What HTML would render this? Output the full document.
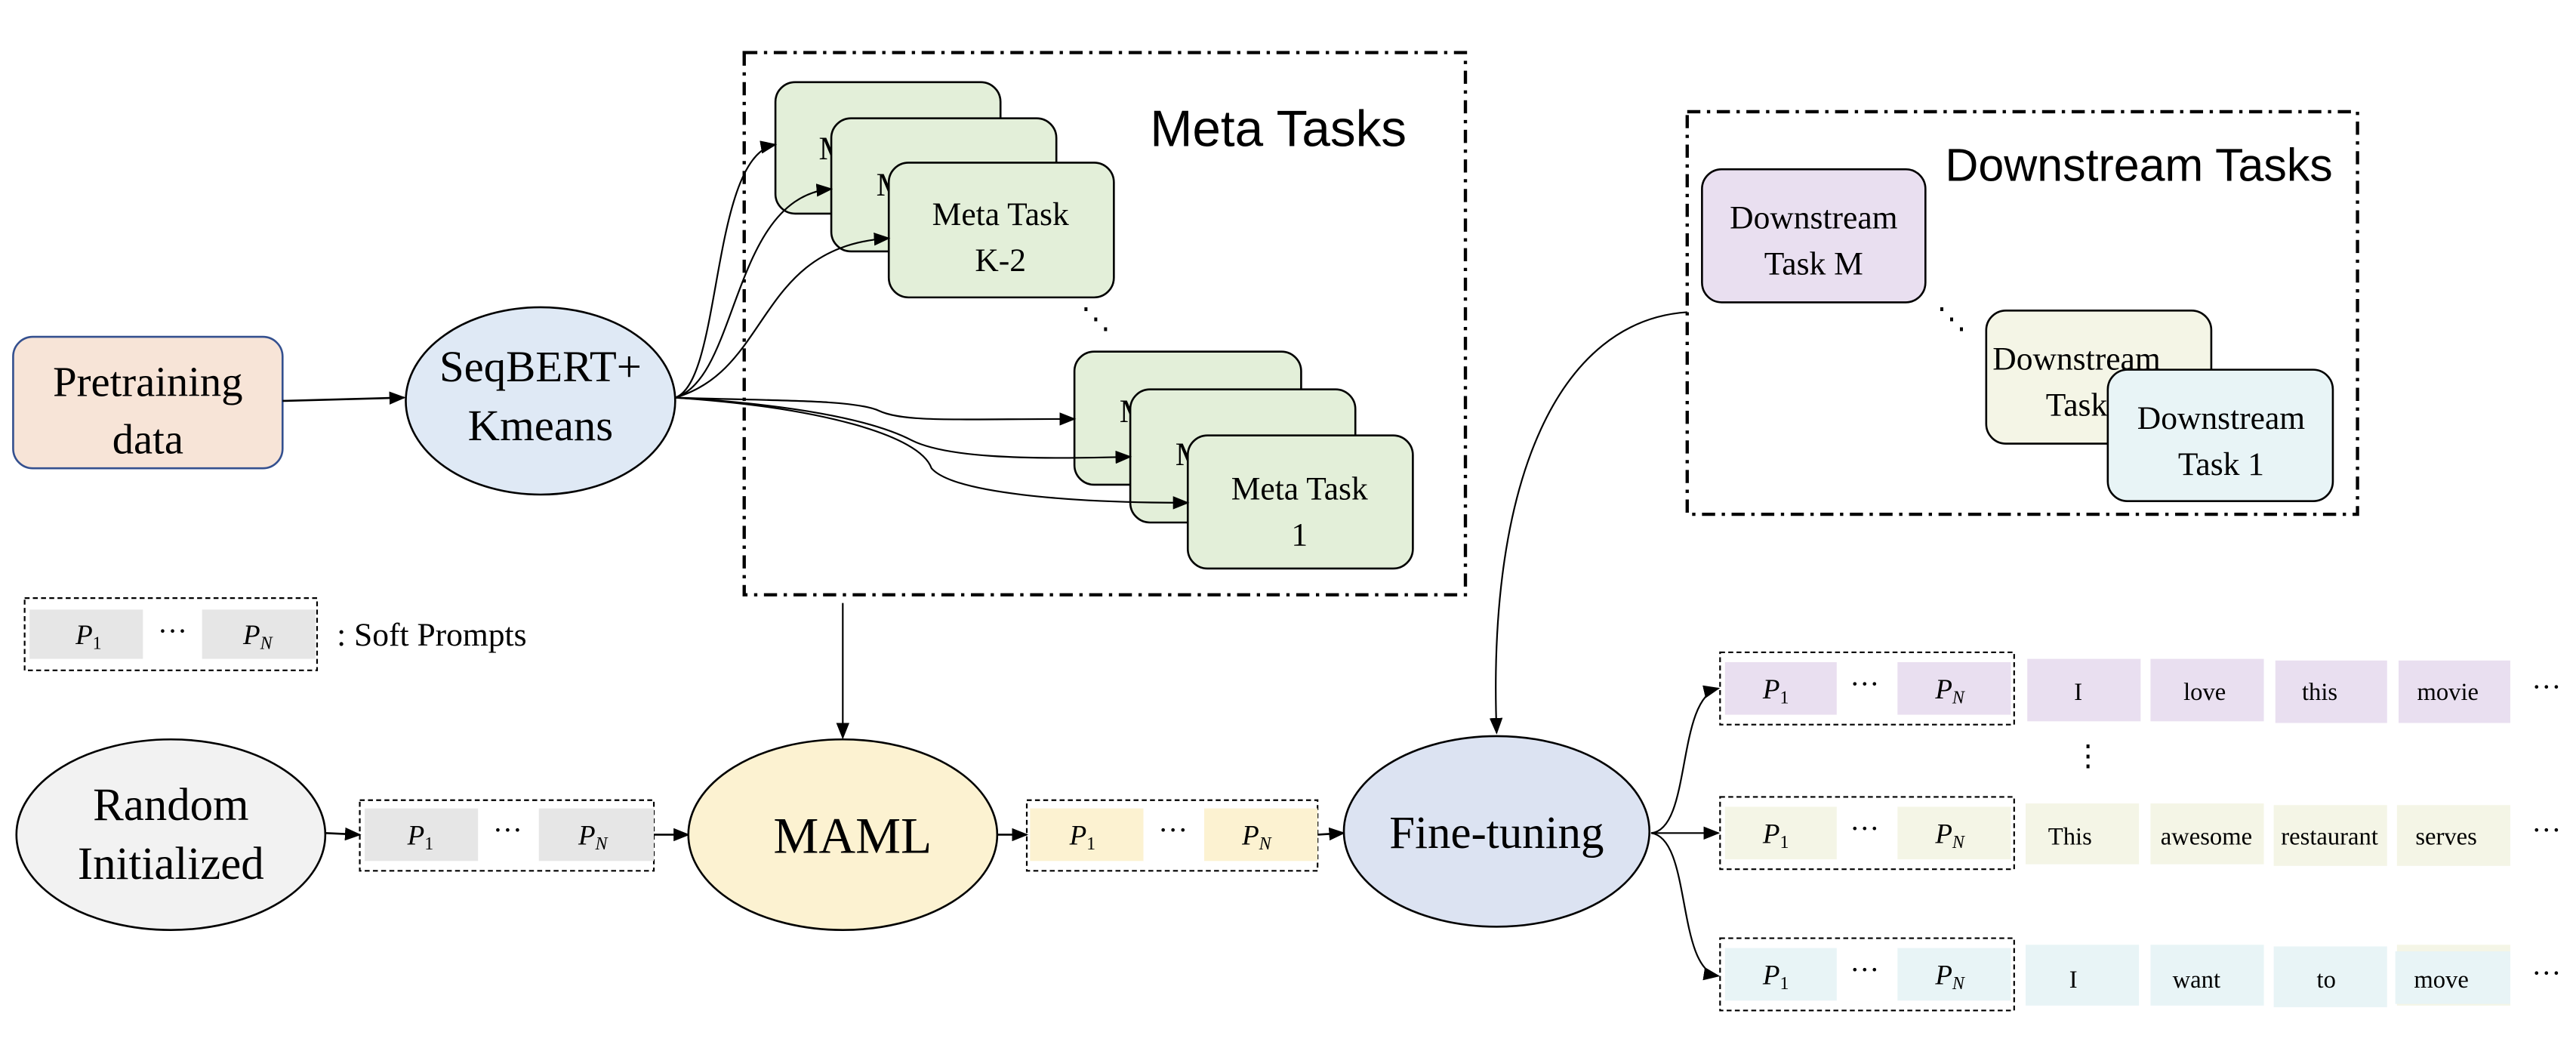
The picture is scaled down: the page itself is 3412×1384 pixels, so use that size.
<!DOCTYPE html>
<html><head><meta charset="utf-8"><style>
html,body{margin:0;padding:0;background:#fff;}
svg{display:block;}
.s{font-family:"Liberation Serif",serif;fill:#000;}
.a{font-family:"Liberation Sans",sans-serif;fill:#000;}
</style></head><body>
<svg width="3412" height="1384" viewBox="0 0 1568 636" preserveAspectRatio="none" xmlns="http://www.w3.org/2000/svg">
<defs>
<marker id="ar" markerWidth="10" markerHeight="8" refX="9" refY="4" orient="auto" markerUnits="userSpaceOnUse">
<path d="M0,0 L10,4 L0,8 Z" fill="#000"/></marker>
</defs>

<rect x="8" y="205" width="164" height="80" rx="12" fill="#f7e4d7" stroke="#34508f" stroke-width="1.2"/>
<text class="s" x="90" y="241" font-size="26" text-anchor="middle">Pretraining</text>
<text class="s" x="90" y="276" font-size="26" text-anchor="middle">data</text>
<line x1="172" y1="244" x2="246" y2="242" stroke="#000" stroke-width="1.2" marker-end="url(#ar)"/>

<ellipse cx="329" cy="244" rx="82" ry="57" fill="#dfe9f5" stroke="#000" stroke-width="1.2"/>
<text class="s" x="329" y="232" font-size="27" text-anchor="middle">SeqBERT+</text>
<text class="s" x="329" y="268" font-size="27" text-anchor="middle">Kmeans</text>

<rect x="453" y="32" width="439" height="330" fill="none" stroke="#000" stroke-width="2" stroke-dasharray="8 4 2 4"/>
<text class="a" x="700" y="89" font-size="31">Meta Tasks</text>

<rect x="472" y="50" width="137" height="80" rx="12" fill="#e3efd9" stroke="#000" stroke-width="1.2"/>
<text class="s" x="540" y="97" font-size="20" text-anchor="middle">Meta Task</text>
<rect x="506" y="72" width="137" height="81" rx="12" fill="#e3efd9" stroke="#000" stroke-width="1.2"/>
<text class="s" x="575" y="119" font-size="20" text-anchor="middle">Meta Task</text>
<rect x="541" y="99" width="137" height="82" rx="12" fill="#e3efd9" stroke="#000" stroke-width="1.2"/>
<text class="s" x="609" y="137" font-size="20" text-anchor="middle">Meta Task</text>
<text class="s" x="609" y="165" font-size="20" text-anchor="middle">K-2</text>
<text class="s" x="667" y="200" font-size="18" text-anchor="middle">⋱</text>
<rect x="654" y="214" width="138" height="81" rx="12" fill="#e3efd9" stroke="#000" stroke-width="1.2"/>
<text class="s" x="723" y="257" font-size="20" text-anchor="middle">Meta Task</text>
<rect x="688" y="237" width="137" height="81" rx="12" fill="#e3efd9" stroke="#000" stroke-width="1.2"/>
<text class="s" x="757" y="283" font-size="20" text-anchor="middle">Meta Task</text>
<rect x="723" y="265" width="137" height="81" rx="12" fill="#e3efd9" stroke="#000" stroke-width="1.2"/>
<text class="s" x="791" y="304" font-size="20" text-anchor="middle">Meta Task</text>
<text class="s" x="791" y="332" font-size="20" text-anchor="middle">1</text>

<g fill="none" stroke="#000" stroke-width="1" >
<path d="M411,242 C440,232 432,95 472,88" marker-end="url(#ar)"/>
<path d="M411,242 C450,230 445,120 506,115" marker-end="url(#ar)"/>
<path d="M411,242 C470,225 460,150 541,145" marker-end="url(#ar)"/>
<path d="M411,242 C470,244 520,243 535,250 C550,257 580,255 654,255" marker-end="url(#ar)"/>
<path d="M411,242 C480,246 530,255 555,268 C575,278 620,280 688,278" marker-end="url(#ar)"/>
<path d="M411,242 C500,248 560,265 567,285 C580,300 650,306 723,306" marker-end="url(#ar)"/>
</g>

<line x1="513" y1="367" x2="513" y2="449" stroke="#000" stroke-width="1" marker-end="url(#ar)"/>

<rect x="15" y="364" width="178" height="44" fill="none" stroke="#000" stroke-width="1" stroke-dasharray="3 2"/>
<rect x="18" y="371" width="69" height="30" fill="#e6e6e6"/>
<rect x="123" y="371" width="69" height="30" fill="#e6e6e6"/>
<text class="s" x="46" y="392" font-size="17" font-style="italic">P<tspan font-size="11" font-style="normal" dy="3">1</tspan></text>
<text class="s" x="105" y="390" font-size="18" text-anchor="middle">···</text>
<text class="s" x="148" y="392" font-size="17" font-style="italic">P<tspan font-size="11" dy="3">N</tspan></text>
<text class="s" x="205" y="393" font-size="20">: Soft Prompts</text>

<ellipse cx="104" cy="508" rx="94" ry="58" fill="#f2f2f2" stroke="#000" stroke-width="1.2"/>
<text class="s" x="104" y="499" font-size="28" text-anchor="middle">Random</text>
<text class="s" x="104" y="535" font-size="28" text-anchor="middle">Initialized</text>
<line x1="198" y1="507" x2="219" y2="508" stroke="#000" stroke-width="1.2" marker-end="url(#ar)"/>

<rect x="219" y="487" width="179" height="43" fill="none" stroke="#000" stroke-width="1" stroke-dasharray="3 2"/>
<rect x="222" y="492" width="69" height="32" fill="#e6e6e6"/>
<rect x="328" y="492" width="70" height="32" fill="#e6e6e6"/>
<text class="s" x="248" y="514" font-size="17" font-style="italic">P<tspan font-size="11" font-style="normal" dy="3">1</tspan></text>
<text class="s" x="309" y="511" font-size="18" text-anchor="middle">···</text>
<text class="s" x="352" y="514" font-size="17" font-style="italic">P<tspan font-size="11" dy="3">N</tspan></text>
<line x1="398" y1="508" x2="419" y2="508" stroke="#000" stroke-width="1.2" marker-end="url(#ar)"/>

<ellipse cx="513" cy="508" rx="94" ry="58" fill="#fcf2d1" stroke="#000" stroke-width="1.2"/>
<text class="s" x="519" y="519" font-size="31" text-anchor="middle">MAML</text>
<line x1="607" y1="508" x2="625" y2="508" stroke="#000" stroke-width="1.2" marker-end="url(#ar)"/>

<rect x="625" y="487" width="177" height="43" fill="none" stroke="#000" stroke-width="1" stroke-dasharray="3 2"/>
<rect x="627" y="492" width="69" height="32" fill="#fcf2d1"/>
<rect x="733" y="492" width="69" height="32" fill="#fcf2d1"/>
<text class="s" x="651" y="514" font-size="17" font-style="italic">P<tspan font-size="11" font-style="normal" dy="3">1</tspan></text>
<text class="s" x="714" y="511" font-size="18" text-anchor="middle">···</text>
<text class="s" x="756" y="514" font-size="17" font-style="italic">P<tspan font-size="11" dy="3">N</tspan></text>
<line x1="802" y1="508" x2="818" y2="507" stroke="#000" stroke-width="1.2" marker-end="url(#ar)"/>

<ellipse cx="911" cy="506" rx="93" ry="58" fill="#dce3f2" stroke="#000" stroke-width="1.2"/>
<text class="s" x="911" y="516" font-size="28" text-anchor="middle">Fine-tuning</text>

<rect x="1027" y="68" width="408" height="245" fill="none" stroke="#000" stroke-width="2" stroke-dasharray="8 4 2 4"/>
<text class="a" x="1184" y="110" font-size="28">Downstream Tasks</text>
<rect x="1036" y="103" width="136" height="81" rx="12" fill="#e9dff0" stroke="#000" stroke-width="1.2"/>
<text class="s" x="1104" y="139" font-size="20" text-anchor="middle">Downstream</text>
<text class="s" x="1104" y="167" font-size="20" text-anchor="middle">Task M</text>
<text class="s" x="1188" y="200" font-size="18" text-anchor="middle">⋱</text>
<rect x="1209" y="189" width="137" height="81" rx="12" fill="#f4f5e6" stroke="#000" stroke-width="1.2"/>
<text class="s" x="1264" y="225" font-size="20" text-anchor="middle">Downstream</text>
<text class="s" x="1264" y="253" font-size="20" text-anchor="middle">Task</text>
<rect x="1283" y="225" width="137" height="80" rx="12" fill="#e8f4f6" stroke="#000" stroke-width="1.2"/>
<text class="s" x="1352" y="261" font-size="20" text-anchor="middle">Downstream</text>
<text class="s" x="1352" y="289" font-size="20" text-anchor="middle">Task 1</text>

<path d="M1027,190 C950,195 905,290 911,446" fill="none" stroke="#000" stroke-width="1" marker-end="url(#ar)"/>

<g fill="none" stroke="#000" stroke-width="1">
<path d="M1005,507 C1030,505 1020,425 1046,419" marker-end="url(#ar)"/>
<path d="M1005,507 L1046,507" marker-end="url(#ar)"/>
<path d="M1005,507 C1030,510 1020,590 1046,594" marker-end="url(#ar)"/>
</g>

<rect x="1047" y="397" width="179" height="44" fill="none" stroke="#000" stroke-width="1" stroke-dasharray="3 2"/>
<rect x="1050" y="403" width="68" height="32" fill="#e9dff0"/>
<rect x="1155" y="403" width="69" height="32" fill="#e9dff0"/>
<text class="s" x="1073" y="425" font-size="17" font-style="italic">P<tspan font-size="11" font-style="normal" dy="3">1</tspan></text>
<text class="s" x="1135" y="422" font-size="18" text-anchor="middle">···</text>
<text class="s" x="1178" y="425" font-size="17" font-style="italic">P<tspan font-size="11" dy="3">N</tspan></text>
<g fill="#e9dff0"><rect x="1234" y="401" width="69" height="38"/><rect x="1309" y="401" width="69" height="38"/><rect x="1385" y="402" width="68" height="38"/><rect x="1460" y="402" width="68" height="38"/></g>
<g class="s" font-size="15" text-anchor="middle">
<text x="1265" y="426">I</text><text x="1342" y="426">love</text><text x="1412" y="426">this</text><text x="1490" y="426">movie</text>
</g>
<text class="s" x="1550" y="424" font-size="18" text-anchor="middle">···</text>
<text class="s" x="1271" y="466" font-size="18" text-anchor="middle">⋮</text>

<rect x="1047" y="485" width="179" height="44" fill="none" stroke="#000" stroke-width="1" stroke-dasharray="3 2"/>
<rect x="1050" y="491" width="68" height="32" fill="#f4f5e6"/>
<rect x="1155" y="491" width="69" height="32" fill="#f4f5e6"/>
<text class="s" x="1073" y="513" font-size="17" font-style="italic">P<tspan font-size="11" font-style="normal" dy="3">1</tspan></text>
<text class="s" x="1135" y="510" font-size="18" text-anchor="middle">···</text>
<text class="s" x="1178" y="513" font-size="17" font-style="italic">P<tspan font-size="11" dy="3">N</tspan></text>
<g fill="#f4f5e6"><rect x="1233" y="489" width="69" height="37"/><rect x="1309" y="489" width="69" height="37"/><rect x="1384" y="490" width="69" height="37"/><rect x="1459" y="490" width="69" height="37"/></g>
<g class="s" font-size="15" text-anchor="middle">
<text x="1260" y="514">This</text><text x="1343" y="514">awesome</text><text x="1418" y="514">restaurant</text><text x="1489" y="514">serves</text>
</g>
<text class="s" x="1550" y="511" font-size="18" text-anchor="middle">···</text>

<rect x="1047" y="571" width="179" height="44" fill="none" stroke="#000" stroke-width="1" stroke-dasharray="3 2"/>
<rect x="1050" y="577" width="68" height="32" fill="#e8f4f6"/>
<rect x="1155" y="577" width="69" height="32" fill="#e8f4f6"/>
<text class="s" x="1073" y="599" font-size="17" font-style="italic">P<tspan font-size="11" font-style="normal" dy="3">1</tspan></text>
<text class="s" x="1135" y="596" font-size="18" text-anchor="middle">···</text>
<text class="s" x="1178" y="599" font-size="17" font-style="italic">P<tspan font-size="11" dy="3">N</tspan></text>
<rect x="1459" y="575" width="69" height="37" fill="#f4f5e6"/>
<g fill="#e8f4f6"><rect x="1233" y="575" width="69" height="37"/><rect x="1309" y="575" width="69" height="37"/><rect x="1384" y="576" width="69" height="37"/><rect x="1458" y="579" width="70" height="32"/></g>
<g class="s" font-size="15" text-anchor="middle">
<text x="1262" y="601">I</text><text x="1337" y="601">want</text><text x="1416" y="601">to</text><text x="1486" y="601">move</text>
</g>
<text class="s" x="1550" y="598" font-size="18" text-anchor="middle">···</text>
</svg>
</body></html>
